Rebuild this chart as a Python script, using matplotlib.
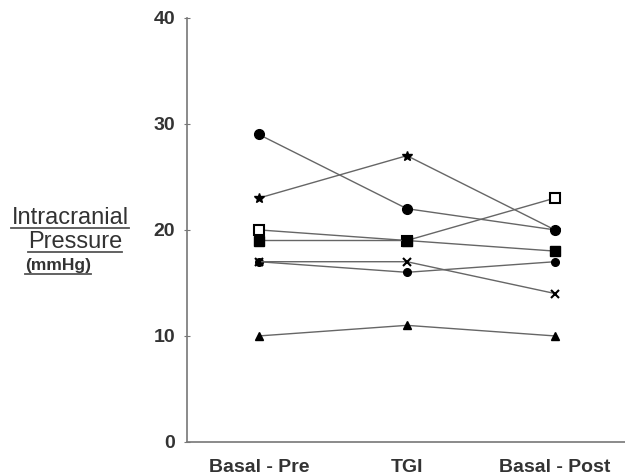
import numpy as np
import matplotlib
matplotlib.use("Agg")
import matplotlib.pyplot as plt
from matplotlib.lines import Line2D

# --- data ---
phases = ["Basal - Pre", "TGI", "Basal - Post"]
circle = [29, 22, 20]
star = [23, 27, 20]
open_square = [20, 19, 23]
filled_square = [19, 19, 18]
small_dot = [17, 16, 17]
cross = [17, 17, 14]
triangle = [10, 11, 10]

yticks = [0, 10, 20, 30, 40]

plt.rcParams["font.family"] = ["Liberation Sans", "DejaVu Sans"]
TXT = "#333333"

fig = plt.figure(figsize=(6.25, 4.75), dpi=100)
ax = fig.add_axes([0.299, 0.0695, 0.701, 0.893])

x = np.arange(len(phases))
line_kw = dict(color="#666666", lw=1.0, mec="black", mfc="black")
ax.plot(x, circle, marker="o", ms=7, **line_kw)
ax.plot(x, star, marker="*", ms=7, **line_kw)
ax.plot(x, open_square, marker="s", ms=7, color="#666666", lw=1.0,
        mec="black", mfc="white", mew=1.5)
ax.plot(x, filled_square, marker="s", ms=7, **line_kw)
ax.plot(x, small_dot, marker="o", ms=5.5, **line_kw)
ax.plot(x, cross, marker="x", ms=6, mew=1.5, **line_kw)
ax.plot(x, triangle, marker="^", ms=6, **line_kw)

ax.set_xlim(-0.486, 2.473)
ax.set_ylim(0, 40)
ax.set_yticks(yticks)
ax.set_xticks(x)
ax.set_xticklabels(phases)

for s in ["top", "right"]:
    ax.spines[s].set_visible(False)
for s in ["left", "bottom"]:
    ax.spines[s].set_color("#777777")
    ax.spines[s].set_linewidth(1.2)

ax.tick_params(axis="y", direction="inout", length=5, color="#777777",
               labelsize=14, labelcolor=TXT, pad=6)
ax.tick_params(axis="x", length=0, labelsize=14, labelcolor=TXT, pad=12)
for lab in ax.get_xticklabels() + ax.get_yticklabels():
    lab.set_fontweight("bold")

# y label with underlines
labels = [
    ("Intracranial", 70, 224, 17, "center"),
    ("Pressure", 75, 248, 17, "center"),
    ("(mmHg)", 25, 270, 12.5, "left"),
]
H = 475.0
W = 625.0
texts = []
for s, px, py, fs, ha in labels:
    t = fig.text(px / W, 1 - py / H, s, fontsize=fs, color=TXT, ha=ha,
                 va="baseline", fontweight="bold" if fs < 14 else "normal")
    texts.append(t)

fig.canvas.draw()
r = fig.canvas.get_renderer()
for t in texts:
    bb = t.get_window_extent(r)
    yb = t.get_position()[1] - 4 / H
    fig.add_artist(Line2D([bb.x0 / W, bb.x1 / W], [yb, yb],
                          transform=fig.transFigure, color="#555555", lw=1.3))

fig.savefig("out.png", dpi=100)
